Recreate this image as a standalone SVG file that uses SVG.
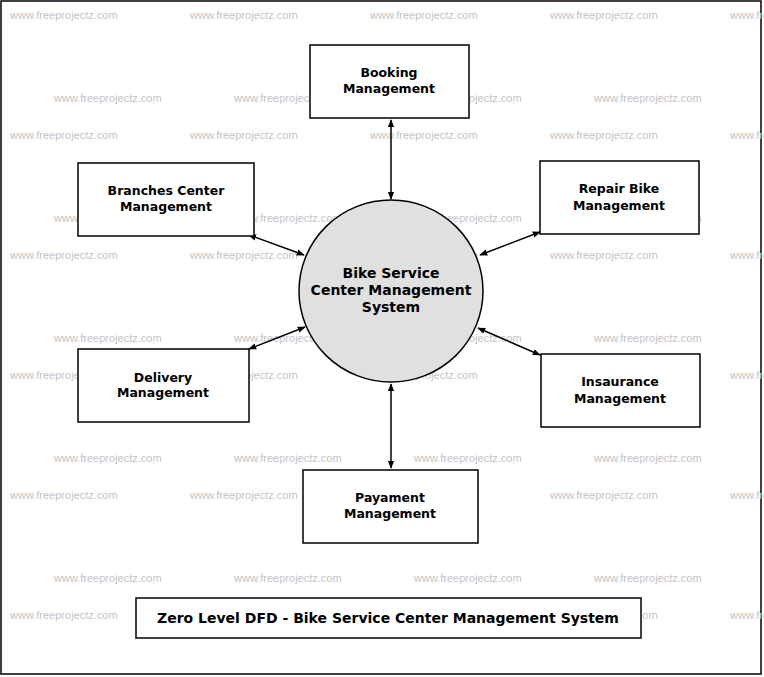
<svg xmlns="http://www.w3.org/2000/svg" width="764" height="677" viewBox="0 0 764 677">
<style>
.wm{font-family:"Liberation Sans",Arial,sans-serif;font-size:11px;fill:#c4c4c4}
.box{fill:#fff;stroke:#000;stroke-width:1.5}
.lbl{font-family:"DejaVu Sans",sans-serif;font-size:12.5px;font-weight:bold;text-anchor:middle;fill:#000}
.con{stroke:#000;stroke-width:1.5;fill:none;marker-start:url(#ah);marker-end:url(#ah)}
</style>
<defs>
<marker id="ah" viewBox="0 0 10 10" refX="9" refY="5" markerWidth="8" markerHeight="8" orient="auto-start-reverse" markerUnits="userSpaceOnUse"><path d="M0,1 L10,5 L0,9 Z" fill="#000"/></marker>
</defs>
<rect x="0" y="0" width="764" height="677" fill="#fff"/>
<rect x="1" y="1" width="760" height="673" fill="none" stroke="#000" stroke-width="1.5"/>
<g id="watermarks">
<text class="wm" x="10" y="19">www.freeprojectz.com</text><text class="wm" x="190" y="19">www.freeprojectz.com</text><text class="wm" x="370" y="19">www.freeprojectz.com</text><text class="wm" x="550" y="19">www.freeprojectz.com</text><text class="wm" x="730" y="19">www.freeprojectz.com</text>
<text class="wm" x="54" y="102">www.freeprojectz.com</text><text class="wm" x="234" y="102">www.freeprojectz.com</text><text class="wm" x="414" y="102">www.freeprojectz.com</text><text class="wm" x="594" y="102">www.freeprojectz.com</text>
<text class="wm" x="10" y="139">www.freeprojectz.com</text><text class="wm" x="190" y="139">www.freeprojectz.com</text><text class="wm" x="370" y="139">www.freeprojectz.com</text><text class="wm" x="550" y="139">www.freeprojectz.com</text><text class="wm" x="730" y="139">www.freeprojectz.com</text>
<text class="wm" x="54" y="222">www.freeprojectz.com</text><text class="wm" x="234" y="222">www.freeprojectz.com</text><text class="wm" x="414" y="222">www.freeprojectz.com</text><text class="wm" x="594" y="222">www.freeprojectz.com</text>
<text class="wm" x="10" y="259">www.freeprojectz.com</text><text class="wm" x="190" y="259">www.freeprojectz.com</text><text class="wm" x="370" y="259">www.freeprojectz.com</text><text class="wm" x="550" y="259">www.freeprojectz.com</text><text class="wm" x="730" y="259">www.freeprojectz.com</text>
<text class="wm" x="54" y="342">www.freeprojectz.com</text><text class="wm" x="234" y="342">www.freeprojectz.com</text><text class="wm" x="414" y="342">www.freeprojectz.com</text><text class="wm" x="594" y="342">www.freeprojectz.com</text>
<text class="wm" x="10" y="379">www.freeprojectz.com</text><text class="wm" x="190" y="379">www.freeprojectz.com</text><text class="wm" x="370" y="379">www.freeprojectz.com</text><text class="wm" x="550" y="379">www.freeprojectz.com</text><text class="wm" x="730" y="379">www.freeprojectz.com</text>
<text class="wm" x="54" y="462">www.freeprojectz.com</text><text class="wm" x="234" y="462">www.freeprojectz.com</text><text class="wm" x="414" y="462">www.freeprojectz.com</text><text class="wm" x="594" y="462">www.freeprojectz.com</text>
<text class="wm" x="10" y="499">www.freeprojectz.com</text><text class="wm" x="190" y="499">www.freeprojectz.com</text><text class="wm" x="370" y="499">www.freeprojectz.com</text><text class="wm" x="550" y="499">www.freeprojectz.com</text><text class="wm" x="730" y="499">www.freeprojectz.com</text>
<text class="wm" x="54" y="582">www.freeprojectz.com</text><text class="wm" x="234" y="582">www.freeprojectz.com</text><text class="wm" x="414" y="582">www.freeprojectz.com</text><text class="wm" x="594" y="582">www.freeprojectz.com</text>
<text class="wm" x="10" y="619">www.freeprojectz.com</text><text class="wm" x="190" y="619">www.freeprojectz.com</text><text class="wm" x="370" y="619">www.freeprojectz.com</text><text class="wm" x="550" y="619">www.freeprojectz.com</text><text class="wm" x="730" y="619">www.freeprojectz.com</text>
</g>
<g id="connectors">
<line class="con" x1="391" y1="120" x2="391" y2="199"/>
<line class="con" x1="249" y1="235" x2="304" y2="255"/>
<line class="con" x1="540" y1="232" x2="480" y2="255"/>
<line class="con" x1="249" y1="349" x2="305" y2="327"/>
<line class="con" x1="540" y1="355" x2="478" y2="328"/>
<line class="con" x1="391" y1="384" x2="391" y2="468"/>
</g>
<g id="system">
<ellipse cx="391" cy="291" rx="92" ry="91" fill="#e0e0e0" stroke="#000" stroke-width="1.5"/>
<text class="lbl" x="391" y="278" style="font-size:14px">Bike Service</text>
<text class="lbl" x="391" y="295" style="font-size:14px">Center Management</text>
<text class="lbl" x="391" y="312" style="font-size:14px">System</text>
</g>
<g id="booking"><rect class="box" x="310" y="45" width="159" height="73"/><text class="lbl" x="389" y="77">Booking</text><text class="lbl" x="389" y="93">Management</text></g>
<g id="branches"><rect class="box" x="78" y="163" width="176" height="73"/><text class="lbl" x="166" y="195">Branches Center</text><text class="lbl" x="166" y="211">Management</text></g>
<g id="repair"><rect class="box" x="540" y="161" width="159" height="73"/><text class="lbl" x="619" y="193">Repair Bike</text><text class="lbl" x="619" y="210">Management</text></g>
<g id="delivery"><rect class="box" x="78" y="349" width="171" height="73"/><text class="lbl" x="163" y="382">Delivery</text><text class="lbl" x="163" y="397">Management</text></g>
<g id="insurance"><rect class="box" x="541" y="354" width="159" height="73"/><text class="lbl" x="620" y="386">Insaurance</text><text class="lbl" x="620" y="403">Management</text></g>
<g id="payment"><rect class="box" x="303" y="470" width="175" height="73"/><text class="lbl" x="390" y="502">Payament</text><text class="lbl" x="390" y="518">Management</text></g>
<g id="title"><rect class="box" x="136" y="598" width="505" height="40"/><text class="lbl" x="388" y="623" style="font-size:14px">Zero Level DFD - Bike Service Center Management System</text></g>
</svg>
